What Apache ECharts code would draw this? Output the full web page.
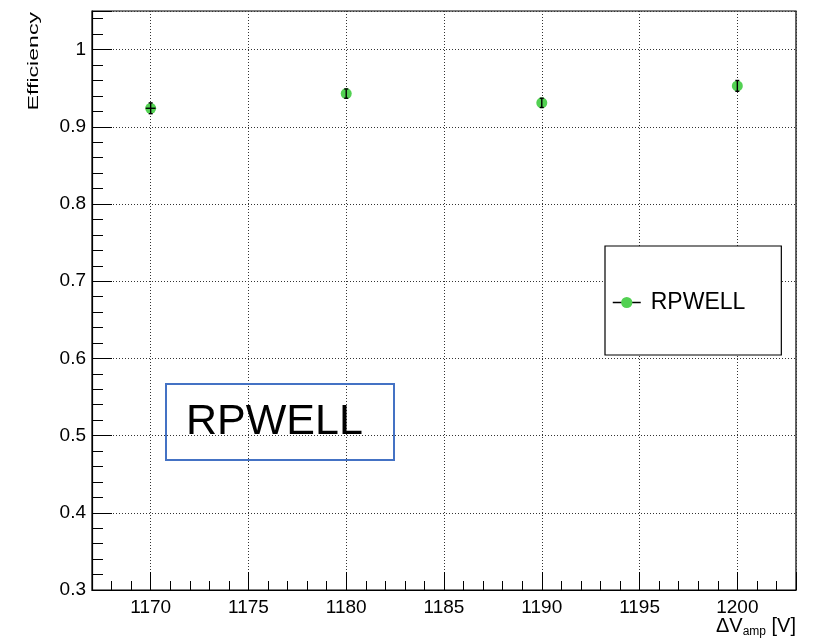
<!DOCTYPE html>
<html>
<head>
<meta charset="utf-8">
<script src="https://cdn.jsdelivr.net/npm/echarts@6/dist/echarts.min.js"></script>
<style>
html,body{margin:0;padding:0;background:#fff;}
#chart{width:820px;height:641px;}
</style>
</head>
<body>
<div id="chart"></div>
<script>
// ---- data ----
const seriesName = 'RPWELL';
const voltages = [1170, 1180, 1190, 1200];
const efficiency = [0.924, 0.943, 0.931, 0.953];
const effErrors = [0.007, 0.006, 0.006, 0.007];
const voltErrors = [0.25, 0, 0, 0];
const xRange = [1167, 1203];
const yRange = [0.3, 1.05];
const yTitle = 'Efficiency';
const xTitle = '{d|ΔV}{s|amp}{d| [V]}';
const boxLabel = 'RPWELL';

const pointData = voltages.map((v, i) => [v, efficiency[i]]);
const errData = voltages.map((v, i) => [v, efficiency[i], effErrors[i], voltErrors[i]]);

const FONT = '"Liberation Sans", Arial, sans-serif';
const chart = echarts.init(document.getElementById('chart'), null, {renderer: 'canvas'});

function isMult(v, step) {
  const r = v / step;
  return Math.abs(r - Math.round(r)) < 1e-6;
}

const option = {
  backgroundColor: '#fff',
  animation: false,
  grid: {left: 92, right: 24, top: 11, bottom: 51, show: true, borderColor: '#000', borderWidth: 1.2,
         backgroundColor: 'transparent', containLabel: false, outerBoundsMode: 'none'},
  legend: {
    data: [seriesName],
    left: 605, top: 246,
    orient: 'vertical',
    padding: [45, 36, 41, 7],
    backgroundColor: '#fff',
    borderColor: '#000',
    borderWidth: 1.2,
    borderRadius: 0,
    itemWidth: 28,
    itemHeight: 14,
    lineStyle: {color: '#000', width: 1.5, opacity: 1},
    textStyle: {fontFamily: FONT, fontSize: 23, color: '#000', padding: [0, 0, 0, 5]}
  },
  xAxis: [
    {
      type: 'value', min: xRange[0], max: xRange[1], interval: 1,
      position: 'bottom',
      axisLine: {show: true, lineStyle: {color: '#000', width: 1.2}},
      axisTick: {show: true, inside: true, length: 9, lineStyle: {color: '#000', width: 1}},
      axisLabel: {show: false},
      splitLine: {show: false}
    },
    {
      type: 'value', min: xRange[0], max: xRange[1], splitNumber: 7,
      position: 'bottom',
      axisLine: {show: false},
      axisTick: {show: true, inside: true, length: 18, lineStyle: {color: '#000', width: 1}},
      axisLabel: {
        show: true, margin: 8, color: '#000', fontFamily: FONT, fontSize: 19,
        formatter: v => isMult(v, 5) ? String(v) : ''
      },
      splitLine: {show: true, lineStyle: {color: '#333', width: 1, type: [1, 2]}}
    }
  ],
  yAxis: [
    {
      type: 'value', min: yRange[0], max: yRange[1], interval: 0.1,
      axisLine: {show: true, lineStyle: {color: '#000', width: 1.2}},
      axisTick: {show: true, inside: true, length: 20, lineStyle: {color: '#000', width: 1}},
      axisLabel: {
        show: true, margin: 6, color: '#000', fontFamily: FONT, fontSize: 19,
        formatter: v => isMult(v, 0.1) ? String(Math.round(v * 10) / 10) : ''
      },
      splitLine: {show: true, lineStyle: {color: '#333', width: 1, type: [1, 2]}}
    },
    {
      type: 'value', min: yRange[0], max: yRange[1], interval: 0.02,
      position: 'left',
      axisLine: {show: false},
      axisTick: {show: true, inside: true, length: 11, lineStyle: {color: '#000', width: 1}},
      axisLabel: {show: false},
      splitLine: {show: false}
    }
  ],
  series: [
    {
      name: seriesName,
      type: 'line',
      xAxisIndex: 0, yAxisIndex: 0,
      data: pointData,
      symbol: 'circle',
      symbolSize: 11,
      showSymbol: true,
      lineStyle: {opacity: 0, width: 0},
      itemStyle: {color: '#52d152'},
      z: 3
    },
    {
      name: 'errors',
      type: 'custom',
      xAxisIndex: 0, yAxisIndex: 0,
      data: errData,
      z: 4,
      renderItem: function (params, api) {
        const x = api.value(0), y = api.value(1), ey = api.value(2), ex = api.value(3);
        const top = api.coord([x, y + ey]);
        const bot = api.coord([x, y - ey]);
        const c = api.coord([x, y]);
        const st = {stroke: '#000', lineWidth: 1.4};
        const kids = [
          {type: 'line', shape: {x1: top[0], y1: top[1], x2: bot[0], y2: bot[1]}, style: st},
          {type: 'line', shape: {x1: top[0] - 2, y1: top[1], x2: top[0] + 2, y2: top[1]}, style: st},
          {type: 'line', shape: {x1: bot[0] - 2, y1: bot[1], x2: bot[0] + 2, y2: bot[1]}, style: st}
        ];
        if (ex > 0) {
          const l = api.coord([x - ex, y]);
          const r = api.coord([x + ex, y]);
          kids.push({type: 'line', shape: {x1: l[0], y1: c[1], x2: r[0], y2: c[1]}, style: st});
        }
        return {type: 'group', children: kids};
      }
    }
  ],
  graphic: [
    {
      type: 'text', x: 27, y: 12, rotation: Math.PI / 2, scaleX: 1.65, z: 10,
      style: {text: yTitle, font: '14px "Liberation Sans", Arial, sans-serif', fill: '#000', textAlign: 'right', textVerticalAlign: 'top'}
    },
    {
      type: 'text', x: 796, y: 614, z: 10,
      style: {
        text: xTitle, textAlign: 'right', textVerticalAlign: 'top', fill: '#000',
        rich: {
          d: {fontFamily: FONT, fontSize: 20, fill: '#000', height: 22},
          s: {fontFamily: FONT, fontSize: 12, fill: '#000', padding: [12, 0, 0, 0]}
        }
      }
    },
    {
      type: 'rect', z: 10,
      shape: {x: 166, y: 384, width: 228, height: 76},
      style: {fill: 'transparent', stroke: '#4472c4', lineWidth: 2}
    },
    {
      type: 'text', x: 186, y: 422, z: 11,
      style: {text: boxLabel, font: '43px "Liberation Sans", Arial, sans-serif', fill: '#000', textAlign: 'left', textVerticalAlign: 'middle'}
    }
  ]
};
chart.setOption(option);
</script>
</body>
</html>
